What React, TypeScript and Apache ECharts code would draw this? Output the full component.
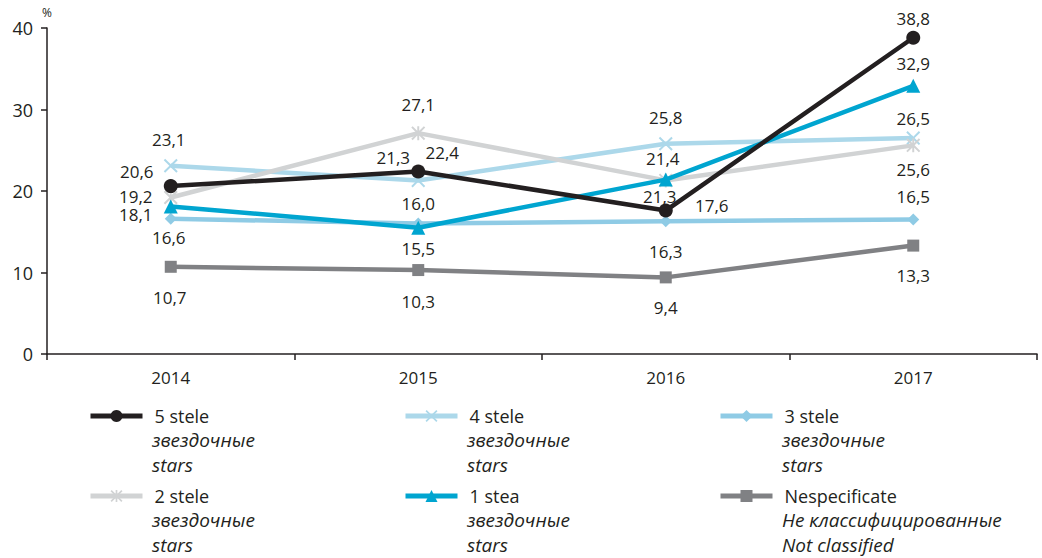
import React, { useEffect, useRef } from "react";
import * as echarts from "echarts";

const categories = ["2014", "2015", "2016", "2017"];
const stele5 = [20.6, 22.4, 17.6, 38.8];
const stele4 = [23.1, 21.3, 25.8, 26.5];
const stele3 = [16.6, 16.0, 16.3, 16.5];
const stele2 = [19.2, 27.1, 21.3, 25.6];
const stea1 = [18.1, 15.5, 21.4, 32.9];
const nespec = [10.7, 10.3, 9.4, 13.3];

const seriesNames = ["5 stele", "4 stele", "3 stele", "2 stele", "1 stea", "Nespecificate"];
const subLines = [
  ["звездочные", "stars"],
  ["звездочные", "stars"],
  ["звездочные", "stars"],
  ["звездочные", "stars"],
  ["звездочные", "stars"],
  ["Не классифицированные", "Not classified"],
];
const yUnit = "%";

const FONT = "'Open Sans', 'Noto Sans', sans-serif";
const TXT = "#231f20";

const XPATH = "path://M1,0 L5,4 L9,0 L10,1 L6,5 L10,9 L9,10 L5,6 L1,10 L0,9 L4,5 L0,1 Z";
const STARPATH =
  "path://M1,0 L5,4 L9,0 L10,1 L6,5 L10,9 L9,10 L5,6 L1,10 L0,9 L4,5 L0,1 Z M4.3,0 L5.7,0 L5.7,10 L4.3,10 Z";

// label offsets (dx, dy of label centre from point)
const labelOffsets: Record<string, number[][]> = {
  "5 stele": [[-34, -15], [24, -19], [46, -5], [0, -19]],
  "4 stele": [[-2, -26], [-25, -23], [0, -26], [0, -20]],
  "3 stele": [[-2, 19], [0, -20], [0, 30], [0, -23]],
  "2 stele": [[-35, -1], [0, -29], [-6, 16], [0, 24]],
  "1 stea": [[-35, 8], [0, 21], [-3, -21], [0, -22]],
  Nespecificate: [[-1, 31], [0, 31], [0, 30], [0, 30]],
};

const styles: Record<string, any> = {
  "5 stele": { color: "#231f20", symbol: "circle", size: 14, z: 6 },
  "4 stele": { color: "#acd8ea", symbol: XPATH, size: 14, z: 1 },
  "3 stele": { color: "#8fcbe5", symbol: "diamond", size: 12, z: 2 },
  "2 stele": { color: "#d1d3d4", symbol: STARPATH, size: 14, z: 3 },
  "1 stea": { color: "#00a5d0", symbol: "triangle", size: 14, z: 5 },
  Nespecificate: { color: "#808184", symbol: "rect", size: 12, z: 4 },
};

const values: Record<string, number[]> = {
  "5 stele": stele5,
  "4 stele": stele4,
  "3 stele": stele3,
  "2 stele": stele2,
  "1 stea": stea1,
  Nespecificate: nespec,
};

const fmt = (v: number) => v.toFixed(1).replace(".", ",");

export default function App() {
  const ref = useRef<HTMLDivElement>(null);
  useEffect(() => {
    if (!ref.current) return;
    const chart = echarts.init(ref.current, undefined, { renderer: "svg" });

    const series = seriesNames.map((name) => {
      const st = styles[name];
      return {
        name,
        type: "line",
        z: st.z,
        symbol: st.symbol,
        symbolSize: st.size,
        lineStyle: { color: st.color, width: 4.5 },
        itemStyle: { color: st.color },
        data: values[name].map((v, i) => ({
          value: v,
          label: { offset: labelOffsets[name][i] },
        })),
        label: {
          show: true,
          position: "inside",
          align: "center",
          verticalAlign: "middle",
          color: TXT,
          fontFamily: FONT,
          fontSize: 17,
          formatter: (p: any) => fmt(p.value),
        },
      };
    });

    const colX = [88, 403, 718];
    const rowY = [418, 498];
    const legends = seriesNames.map((name, i) => ({
      data: [name],
      left: colX[i % 3],
      top: rowY[Math.floor(i / 3)] - 11,
      padding: 0,
      itemWidth: 52,
      itemHeight: 15,
      selectedMode: false,
      lineStyle: { width: 5 },
      textStyle: {
        color: TXT,
        fontFamily: FONT,
        fontSize: 18,
        padding: [0, 0, 0, 7],
      },
    }));

    const graphics: any[] = [];
    seriesNames.forEach((name, i) => {
      const x = colX[i % 3] + 64;
      const y0 = rowY[Math.floor(i / 3)];
      subLines[i].forEach((t, j) => {
        graphics.push({
          type: "text",
          left: x,
          top: y0 + 24.5 * (j + 1) - 12,
          style: {
            text: t,
            fill: TXT,
            font: `italic 19px ${FONT}`,
          },
        });
      });
    });

    chart.setOption({
      animation: false,
      grid: { left: 47, right: 5, top: 28, bottom: 204 },
      legend: legends,
      graphic: graphics,
      xAxis: {
        type: "category",
        data: categories,
        boundaryGap: true,
        axisLine: { lineStyle: { color: TXT, width: 1.5 } },
        axisTick: { show: true, length: 6, lineStyle: { color: TXT, width: 1.5 } },
        axisLabel: { color: TXT, fontFamily: FONT, fontSize: 17, margin: 15 },
      },
      yAxis: {
        type: "value",
        min: 0,
        max: 40,
        interval: 10,
        name: yUnit,
        nameLocation: "end",
        nameGap: 10,
        nameTextStyle: { color: TXT, fontFamily: FONT, fontSize: 12, align: "center" },
        axisLine: { show: true, lineStyle: { color: TXT, width: 1.5 } },
        axisTick: { show: true, length: 6, lineStyle: { color: TXT, width: 1.5 } },
        splitLine: { show: false },
        axisLabel: { color: TXT, fontFamily: FONT, fontSize: 18, margin: 14 },
      },
      series,
    });
    return () => chart.dispose();
  }, []);
  return (
    <div
      ref={ref}
      style={{ position: "fixed", left: 0, top: 0, width: 1042, height: 558, background: "#fff" }}
    />
  );
}
